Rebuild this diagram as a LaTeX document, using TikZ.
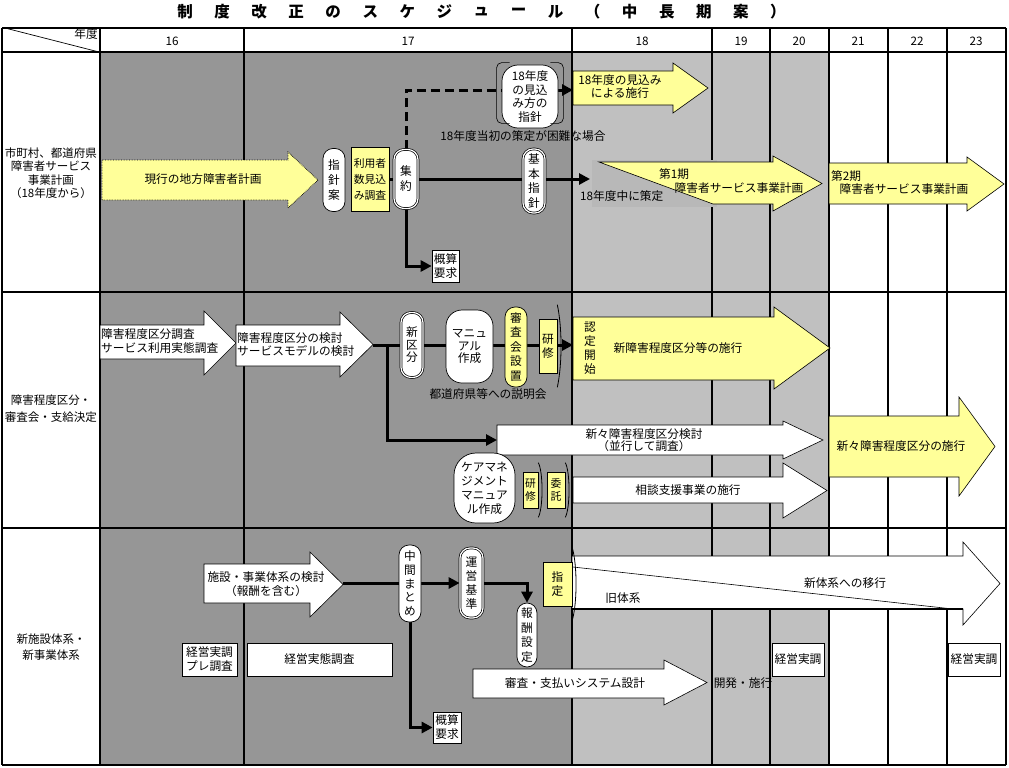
\documentclass[tikz,border=0pt]{standalone}
\usepackage{fontspec}
\setmainfont{Noto Sans CJK JP}
\usetikzlibrary{arrows.meta,calc}

\definecolor{dgray}{RGB}{150,150,150}
\definecolor{lgray}{RGB}{192,192,192}
\definecolor{yel}{RGB}{255,255,153}
\definecolor{stip}{RGB}{184,184,184}

\pgfdeclarelayer{bg}
\pgfdeclarelayer{conn}
\pgfsetlayers{bg,conn,main}

% block arrow: style, left x, body top, body bottom, head base x, head top, head bottom, tip x
\newcommand{\blockarrow}[8]{%
  \draw[#1] (#2,#3) -- (#5,#3) -- (#5,#6) -- (#8,{(#6+#7)/2}) -- (#5,#7) -- (#5,#4) -- (#2,#4) -- cycle;}
% bracket on the right side of a flag node: node name, overhang
\newcommand{\flagedge}[2]{%
  \draw[line width=0.8pt] ($(#1.north east)+(0,-#2)$) .. controls ($(#1.east)+(5,-18)$) and ($(#1.east)+(5,18)$) .. ($(#1.south east)+(0,#2)$);}

\begin{document}
\begin{tikzpicture}[x=1pt,y=-1pt,>={Triangle[length=11pt,width=11pt]},
    every node/.style={font=\fontsize{11.7}{14}\selectfont,inner sep=0pt},
    pill/.style={draw,fill=white,rounded corners=10pt,minimum width=22pt,align=center,line width=0.7pt,font=\fontsize{11.7}{14.5}\selectfont},
    dpill/.style={pill,double,double distance=1.2pt},
    flag/.style={draw,fill=yel,line width=0.6pt,align=center},
    boxw/.style={draw,fill=white,line width=0.7pt,align=center,minimum height=33pt},
    yarrow/.style={fill=yel,draw=black,line width=0.6pt},
    warrow/.style={fill=white,draw=black,line width=0.6pt},
    conline/.style={line width=3pt}]
    \useasboundingbox (0,0) rectangle (1009,768);

    % 1) Table: shading and grid
    \begin{pgfonlayer}{bg}
      \fill[white] (0,0) rectangle (1009,768);
      \fill[dgray] (100,52) rectangle (572,765);
      \fill[lgray] (572,52) rectangle (829,765);
      \foreach \yy in {28,52,292,528,765}
        \draw[line width=1.2pt] (2,\yy) -- (1006,\yy);
      \foreach \xx in {2,100,244,572,712,770,829,888,947,1006}
        \draw[line width=1.2pt] (\xx,28) -- (\xx,765);
      \draw[line width=0.7pt] (5,28) -- (99,52);
    \end{pgfonlayer}

    % 2) Title and header row
    \foreach \ch [count=\i from 0] in {制,度,改,正,の,ス,ケ,ジ,ュ,ー,ル,（,中,長,期,案,）}
      \node[font=\fontsize{15.5}{17}\selectfont\bfseries] (title\i) at ({185+37.06*\i},12) {\ch};
    \node (nendo) at (86,34) {年度};
    \foreach \yr/\xc in {16/172,17/408,18/642,19/741,20/799,21/858,22/917,23/976}
      \node (yr\yr) at (\xc,41) {\yr};

    % 3) Row labels
    \node[align=center,font=\fontsize{11.5}{13.5}\selectfont] (rowplan) at (51,173)
      {市町村、都道府県\\障害者サービス\\事業計画\\（18年度から）};
    \node[align=center,font=\fontsize{11.5}{17}\selectfont] (rowkubun) at (51,409) {障害程度区分・\\審査会・支給決定};
    \node[align=center,font=\fontsize{11.5}{16}\selectfont] (rowtaikei) at (51,647) {新施設体系・\\新事業体系};

    % 4) Row 1: service plans
    \blockarrow{yarrow,densely dotted,line width=0.8pt}{102}{160}{200}{288}{152}{208}{318}
    \node (genko) at (203,179) {現行の地方障害者計画};
    \node[pill,minimum height=63pt,font=\fontsize{11.7}{15}\selectfont] (shishinan) at (334,180) {指\\針\\案};
    \node[flag,minimum width=38pt,minimum height=64pt,font=\fontsize{10.8}{16}\selectfont] (riyosha) at (370,179)
      {利用者\\数見込\\み調査};
    \node[dpill,minimum width=24pt,minimum height=59pt,font=\fontsize{11.7}{15}\selectfont] (shuyaku) at (406,179) {集\\約};
    \node[dpill,minimum height=64pt] (kihon) at (534,181) {基\\本\\指\\針};
    \node[pill,rounded corners=16pt,minimum width=56pt,minimum height=63pt,font=\fontsize{11.7}{13.7}\selectfont]
      (mikomi) at (530,96.5) {18年度\\の見込\\み方の\\指針};
    \draw[line width=0.6pt,rounded corners=5pt] ($(mikomi.north west)+(8,-2)$) -- ($(mikomi.north west)+(-5,-2)$)
      -- ($(mikomi.south west)+(-5,-5)$) -- ($(mikomi.south west)+(8,-5)$);
    \draw[line width=0.6pt,rounded corners=5pt] ($(mikomi.north east)+(-8,-2)$) -- ($(mikomi.north east)+(5,-2)$)
      -- ($(mikomi.south east)+(5,-5)$) -- ($(mikomi.south east)+(-8,-5)$);
    \node (konnan) at (523,136) {18年度当初の策定が困難な場合};

    \blockarrow{yarrow}{573}{71}{105}{673}{63}{113}{708}
    \node[align=center,font=\fontsize{11.7}{13}\selectfont] (mikomisekou) at (620,86.5) {18年度の見込み\\による施行};
    \coordinate (mikomiin) at (573,90);

    \fill[stip] (592,160) rectangle (717,207);
    \draw[fill=yel,line width=0.6pt] (599,162) -- (773,162) -- (773,156) -- (822,183.5) -- (773,211)
      -- (773,204) -- (713,204) -- cycle;
    \node (dai1) at (674,174) {第1期};
    \node (dai1plan) at (739,188) {障害者サービス事業計画};
    \node[anchor=west] (sakuteitxt) at (580,196) {18年度中に策定};
    \coordinate (sakutei) at (590,179);

    \blockarrow{yarrow}{829}{163}{204}{967}{157}{211}{1004}
    \node[anchor=west] (dai2) at (831,176) {第2期};
    \node (dai2plan) at (904,189) {障害者サービス事業計画};

    \node[boxw,minimum width=27pt,minimum height=32pt] (gaisan1) at (445.5,266) {概算\\要求};

    \begin{pgfonlayer}{conn}
      \draw[conline] (riyosha.east) -- (shuyaku.west);
      \draw[conline,->] (shuyaku.east) -- (sakutei);
      \draw[conline,->] (shuyaku.south) |- (gaisan1.west);
      \draw[conline,->,dash pattern=on 9pt off 5pt] (shuyaku.north) |- (mikomiin);
    \end{pgfonlayer}

    % 5) Row 2: disability classification
    \blockarrow{warrow}{100}{325}{359}{204}{311}{375}{236}
    \node[anchor=west,align=left] (chosa) at (101,341) {障害程度区分調査\\サービス利用実態調査};
    \blockarrow{warrow}{236}{325}{366}{340}{312}{377}{373}
    \node[anchor=west,align=left,font=\fontsize{11.7}{13}\selectfont] (kento) at (237,345)
      {障害程度区分の検討\\サービスモデルの検討};
    \coordinate (kentotip) at (373,345);

    \node[dpill,minimum height=65pt,font=\fontsize{11.7}{12.5}\selectfont] (shinkubun) at (412,345) {新\\区\\分};
    \node[pill,rounded corners=16pt,minimum width=47pt,minimum height=73pt,font=\fontsize{11.7}{12.5}\selectfont]
      (manual) at (469.5,346.5) {マニュ\\アル\\作成};
    \node[pill,fill=yel,minimum height=80pt,font=\fontsize{11.7}{14.5}\selectfont] (shinsakai) at (516,347)
      {審\\査\\会\\設\\置};
    \node[flag,minimum width=18pt,minimum height=54pt] (kenshu1) at (548,346) {研\\修};
    \flagedge{kenshu1}{14}

    \blockarrow{yarrow}{573}{317}{380}{774}{307}{389}{830}
    \node[align=center] (nintei) at (590,348) {認\\定\\開\\始};
    \node (shinsekou) at (678,348) {新障害程度区分等の施行};
    \coordinate (ninteiin) at (573,345);
    \node (setsumei) at (488,394) {都道府県等への説明会};

    \coordinate (branch) at (387,345);
    \coordinate (shinshinin) at (497,440);
    \blockarrow{warrow}{497}{425}{455}{783}{421}{459}{823}
    \node[align=center,font=\fontsize{11.7}{12.5}\selectfont] (shinshin) at (644,440)
      {新々障害程度区分検討\\（並行して調査）};
    \blockarrow{yarrow}{829}{416}{477}{959}{397}{496}{995}
    \node (shinshinsekou) at (901,446) {新々障害程度区分の施行};

    \node[pill,rounded corners=22pt,minimum width=61pt,minimum height=70pt,font=\fontsize{11.7}{14}\selectfont]
      (caremane) at (484.5,488) {ケアマネ\\ジメント\\マニュア\\ル作成};
    \node[flag,minimum width=15pt,minimum height=36pt,font=\fontsize{10.8}{13}\selectfont] (kenshu2) at (530.5,490) {研\\修};
    \flagedge{kenshu2}{9}
    \node[flag,minimum width=18pt,minimum height=36pt,font=\fontsize{10.8}{13}\selectfont] (itaku) at (556,490) {委\\託};
    \flagedge{itaku}{9}
    \blockarrow{warrow}{573}{477}{503}{783}{463}{518}{827}
    \node (sodan) at (688,490) {相談支援事業の施行};

    \begin{pgfonlayer}{conn}
      \draw[conline,->] (kentotip) -- (ninteiin);
      \draw[conline,->] (branch) |- (shinshinin);
    \end{pgfonlayer}

    % 6) Row 3: new facility / service system
    \blockarrow{warrow}{204}{564}{603}{310}{552}{617}{343}
    \node[align=center] (shisetsu) at (266,584) {施設・事業体系の検討\\（報酬を含む）};
    \coordinate (shisetsutip) at (343,583);

    \node[pill,minimum height=77pt,font=\fontsize{11.7}{13.8}\selectfont] (chukan) at (410,583.5) {中\\間\\ま\\と\\め};
    \node[dpill,minimum width=23pt,minimum height=70pt,font=\fontsize{11.7}{14}\selectfont] (unei) at (471.5,583) {運\\営\\基\\準};
    \node[pill,minimum width=20pt,minimum height=64pt,font=\fontsize{11.7}{14.7}\selectfont] (hoshu) at (527,635) {報\\酬\\設\\定};
    \node[boxw,minimum width=28pt,minimum height=31pt] (gaisan2) at (447,727.5) {概算\\要求};

    \draw[fill=white,line width=0.6pt] (572,556) -- (963,556) -- (963,542) -- (1000,583.5) -- (963,625)
      -- (963,609) -- (572,609) -- cycle;
    \draw[line width=2pt] (572,609) -- (963,609);
    \draw[line width=0.6pt] (573,567) -- (953,609);
    \node (shintaikei) at (845,583) {新体系への移行};
    \node (kyutaikei) at (623,598) {旧体系};
    \node[flag,minimum width=29pt,minimum height=44pt] (shitei) at (557.5,584) {指\\定};
    \flagedge{shitei}{14}

    \blockarrow{warrow}{473}{669}{698}{664}{660}{705}{707}
    \node (shinsa) at (575,683) {審査・支払いシステム設計};
    \node (kaihatsu) at (743,683) {開発・施行};

    \node[boxw,minimum width=55pt] (pure) at (209.5,659.5) {経営実調\\プレ調査};
    \node[boxw,minimum width=145pt] (jittai) at (319.5,659.5) {経営実態調査};
    \node[boxw,minimum width=52pt] (keiei1) at (798,659.5) {経営実調};
    \node[boxw,minimum width=52pt] (keiei2) at (974,659.5) {経営実調};

    \begin{pgfonlayer}{conn}
      \draw[conline,->] (shisetsutip) -- (unei.west);
      \draw[conline,->] (unei.east) -| (hoshu.north);
      \draw[conline,->] (chukan.south) |- (gaisan2.west);
    \end{pgfonlayer}
\end{tikzpicture}
\end{document}
